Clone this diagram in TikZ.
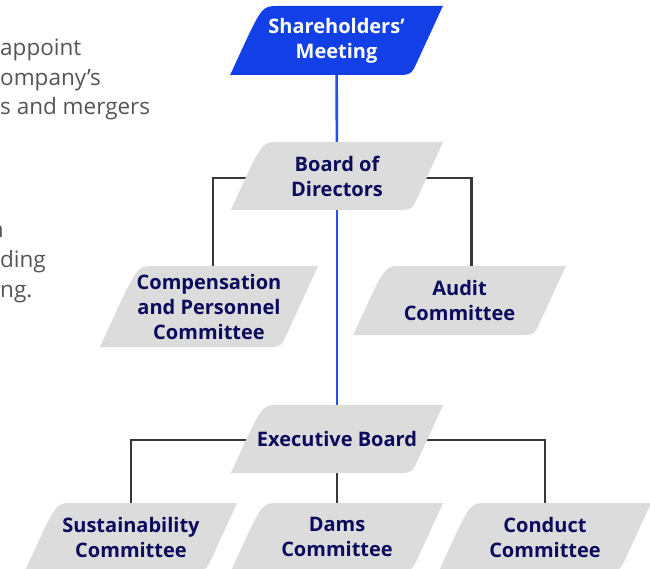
\documentclass[tikz,border=0pt]{standalone}
\usepackage{fontspec}
\setmainfont{Open Sans}
\newfontfamily\grayfont{Open Sans}
\usetikzlibrary{calc}
\pgfdeclarelayer{bg}\pgfsetlayers{bg,main}
\definecolor{navy}{HTML}{0B0A5C}
\definecolor{boxgray}{HTML}{DCDCDC}
\definecolor{blueA}{HTML}{1240E6}
\definecolor{lineblue}{HTML}{2A4DEE}
\definecolor{linegray}{HTML}{383838}
\definecolor{txtgray}{HTML}{555555}
\newcommand\slbox[7]{%
 \pgfmathsetmacro\slhh{#4/2}\pgfmathsetmacro\slsx{0.23*#4}%
 \coordinate (#1-tl) at ({#2-90.5+\slsx},{#3-\slhh});
 \coordinate (#1-tr) at ({#2+90.5+\slsx},{#3-\slhh});
 \coordinate (#1-br) at ({#2+90.5-\slsx},{#3+\slhh});
 \coordinate (#1-bl) at ({#2-90.5-\slsx},{#3+\slhh});
 \fill[#5] ($(#1-bl)!16pt!(#1-tl)$) .. controls (#1-tl) .. ($(#1-tl)!16pt!(#1-tr)$) -- (#1-tr) -- ($(#1-br)!16pt!(#1-tr)$) .. controls (#1-br) .. ($(#1-br)!16pt!(#1-bl)$) -- (#1-bl) -- cycle;
 \node[lbl,text=#6] (#1) at (#2,#3) {#7};
}
\begin{document}
\begin{tikzpicture}[x=1pt,y=-1pt,
 lbl/.style={font=\bfseries\fontsize{20}{25}\selectfont, align=center, inner sep=0pt},
 side/.style={font=\grayfont\fontsize{22.5}{30}\selectfont, text=txtgray, inner sep=0pt, anchor=base west},
 conn/.style={draw=linegray, line width=2.5pt},
 bconn/.style={draw=lineblue, line width=2.6pt}]
\useasboundingbox (0,0) rectangle (650,569);

\slbox{sh}{336.5}{40.5}{69}{blueA}{white}{Shareholders’\\Meeting}
\slbox{bod}{337}{176}{68}{boxgray}{navy}{Board of\\Directors}
\slbox{comp}{209}{306.5}{81}{boxgray}{navy}{Compensation\\and Personnel\\Committee}
\slbox{aud}{459.5}{300.5}{69}{boxgray}{navy}{Audit\\Committee}
\slbox{exe}{337}{439}{68}{boxgray}{navy}{Executive Board}
\slbox{sus}{131}{537}{68}{boxgray}{navy}{Sustainability\\Committee}
\slbox{dams}{337}{537}{68}{boxgray}{navy}{Dams\\Committee}
\slbox{cond}{545}{537}{68}{boxgray}{navy}{Conduct\\Committee}

\begin{pgfonlayer}{bg}
\draw[bconn] (sh) -- (bod);
\draw[bconn] (bod) -- (exe);
\draw[conn] ([yshift=-2pt]bod.center) -| ([xshift=4pt]comp.center);
\draw[conn] ([yshift=-2pt]bod.center) -| ([xshift=12pt]aud.center);
\draw[conn] ([yshift=-1pt]exe.center) -| (sus);
\draw[conn] (exe) -- (dams);
\draw[conn] ([yshift=-1pt]exe.center) -| (cond);
\end{pgfonlayer}

\node[side] (t1) at (0,56) {appoint};
\node[side] (t2) at (0,86) {ompany’s};
\node[side] (t3) at (0,115) {s and mergers};
\node[side,anchor=base east] (t4) at (4,238) {n};
\node[side] (t5) at (0,268) {ding};
\node[side] (t6) at (0,297) {ng.};
\end{tikzpicture}
\end{document}
